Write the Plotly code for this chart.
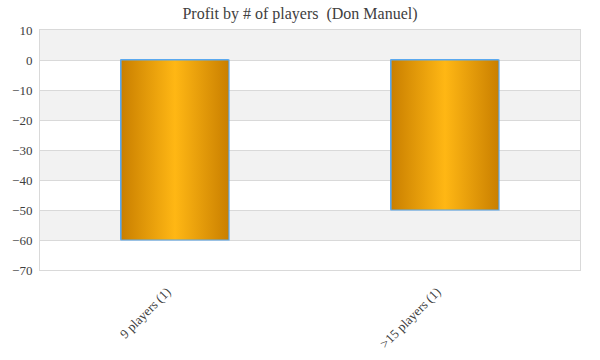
import plotly.graph_objects as go

categories = ["9 players (1)", ">15 players (1)"]
profits = [-60, -50]
y_ticks = [10, 0, -10, -20, -30, -40, -50, -60, -70]

bar_width = 0.4
font_family = "Georgia, 'Liberation Serif', 'DejaVu Serif', serif"
gradient = [[0, "#c97f00"], [0.5, "#ffb714"], [1, "#c97f00"]]

fig = go.Figure()
xpos = list(range(len(categories)))

# bar outlines (semantic bars)
fig.add_trace(go.Bar(
    x=xpos, y=profits, width=bar_width,
    marker=dict(color="rgba(0,0,0,0)", line=dict(color="#5aa9f0", width=1)),
    showlegend=False,
))

# gradient-filled bodies with outline
for x, v in zip(xpos, profits):
    x0, x1 = x - bar_width / 2, x + bar_width / 2
    fig.add_trace(go.Scatter(
        x=[x0, x1, x1, x0, x0], y=[0, 0, v, v, 0],
        mode="lines", fill="toself",
        line=dict(width=1.2, color="#5aa9f0"),
        fillgradient=dict(type="horizontal", colorscale=gradient),
        hoverinfo="skip", showlegend=False,
    ))

# alternating bands
ticks_sorted = sorted(y_ticks, reverse=True)
for i in range(len(ticks_sorted) - 1):
    if i % 2 == 0:
        fig.add_shape(type="rect", xref="paper", yref="y",
                      x0=0, x1=1, y0=ticks_sorted[i + 1], y1=ticks_sorted[i],
                      fillcolor="#f2f2f2", line=dict(width=0), layer="below")

fig.update_layout(
    width=600, height=360,
    margin=dict(l=40, r=20, t=30, b=90, autoexpand=False),
    paper_bgcolor="white", plot_bgcolor="white",
    title=dict(text="Profit by # of players  (Don Manuel)", x=0.5, xanchor="center",
               y=0.964, yanchor="middle",
               font=dict(family=font_family, size=16, color="#404040")),
    font=dict(family=font_family, color="#404040", size=12),
    xaxis=dict(range=[-0.5, len(categories) - 0.5], tickvals=xpos, ticktext=categories,
               tickangle=-45, showgrid=False, zeroline=False, automargin=False,
               showline=True, linecolor="#d9d9d9", mirror=True,
               ticklabelstandoff=8, ticklabelshift=-8,
               tickfont=dict(size=13, color="#404040")),
    yaxis=dict(range=[-70, 10], tickvals=y_ticks, showgrid=True, gridcolor="#d9d9d9",
               zeroline=False, showline=True, linecolor="#d9d9d9", mirror=True,
               automargin=False, ticklabelstandoff=4,
               tickfont=dict(size=13, color="#404040")),
    bargap=0,
)

fig.write_html("out.html", config={"displayModeBar": False},
               post_script="document.body.style.margin='0';")
